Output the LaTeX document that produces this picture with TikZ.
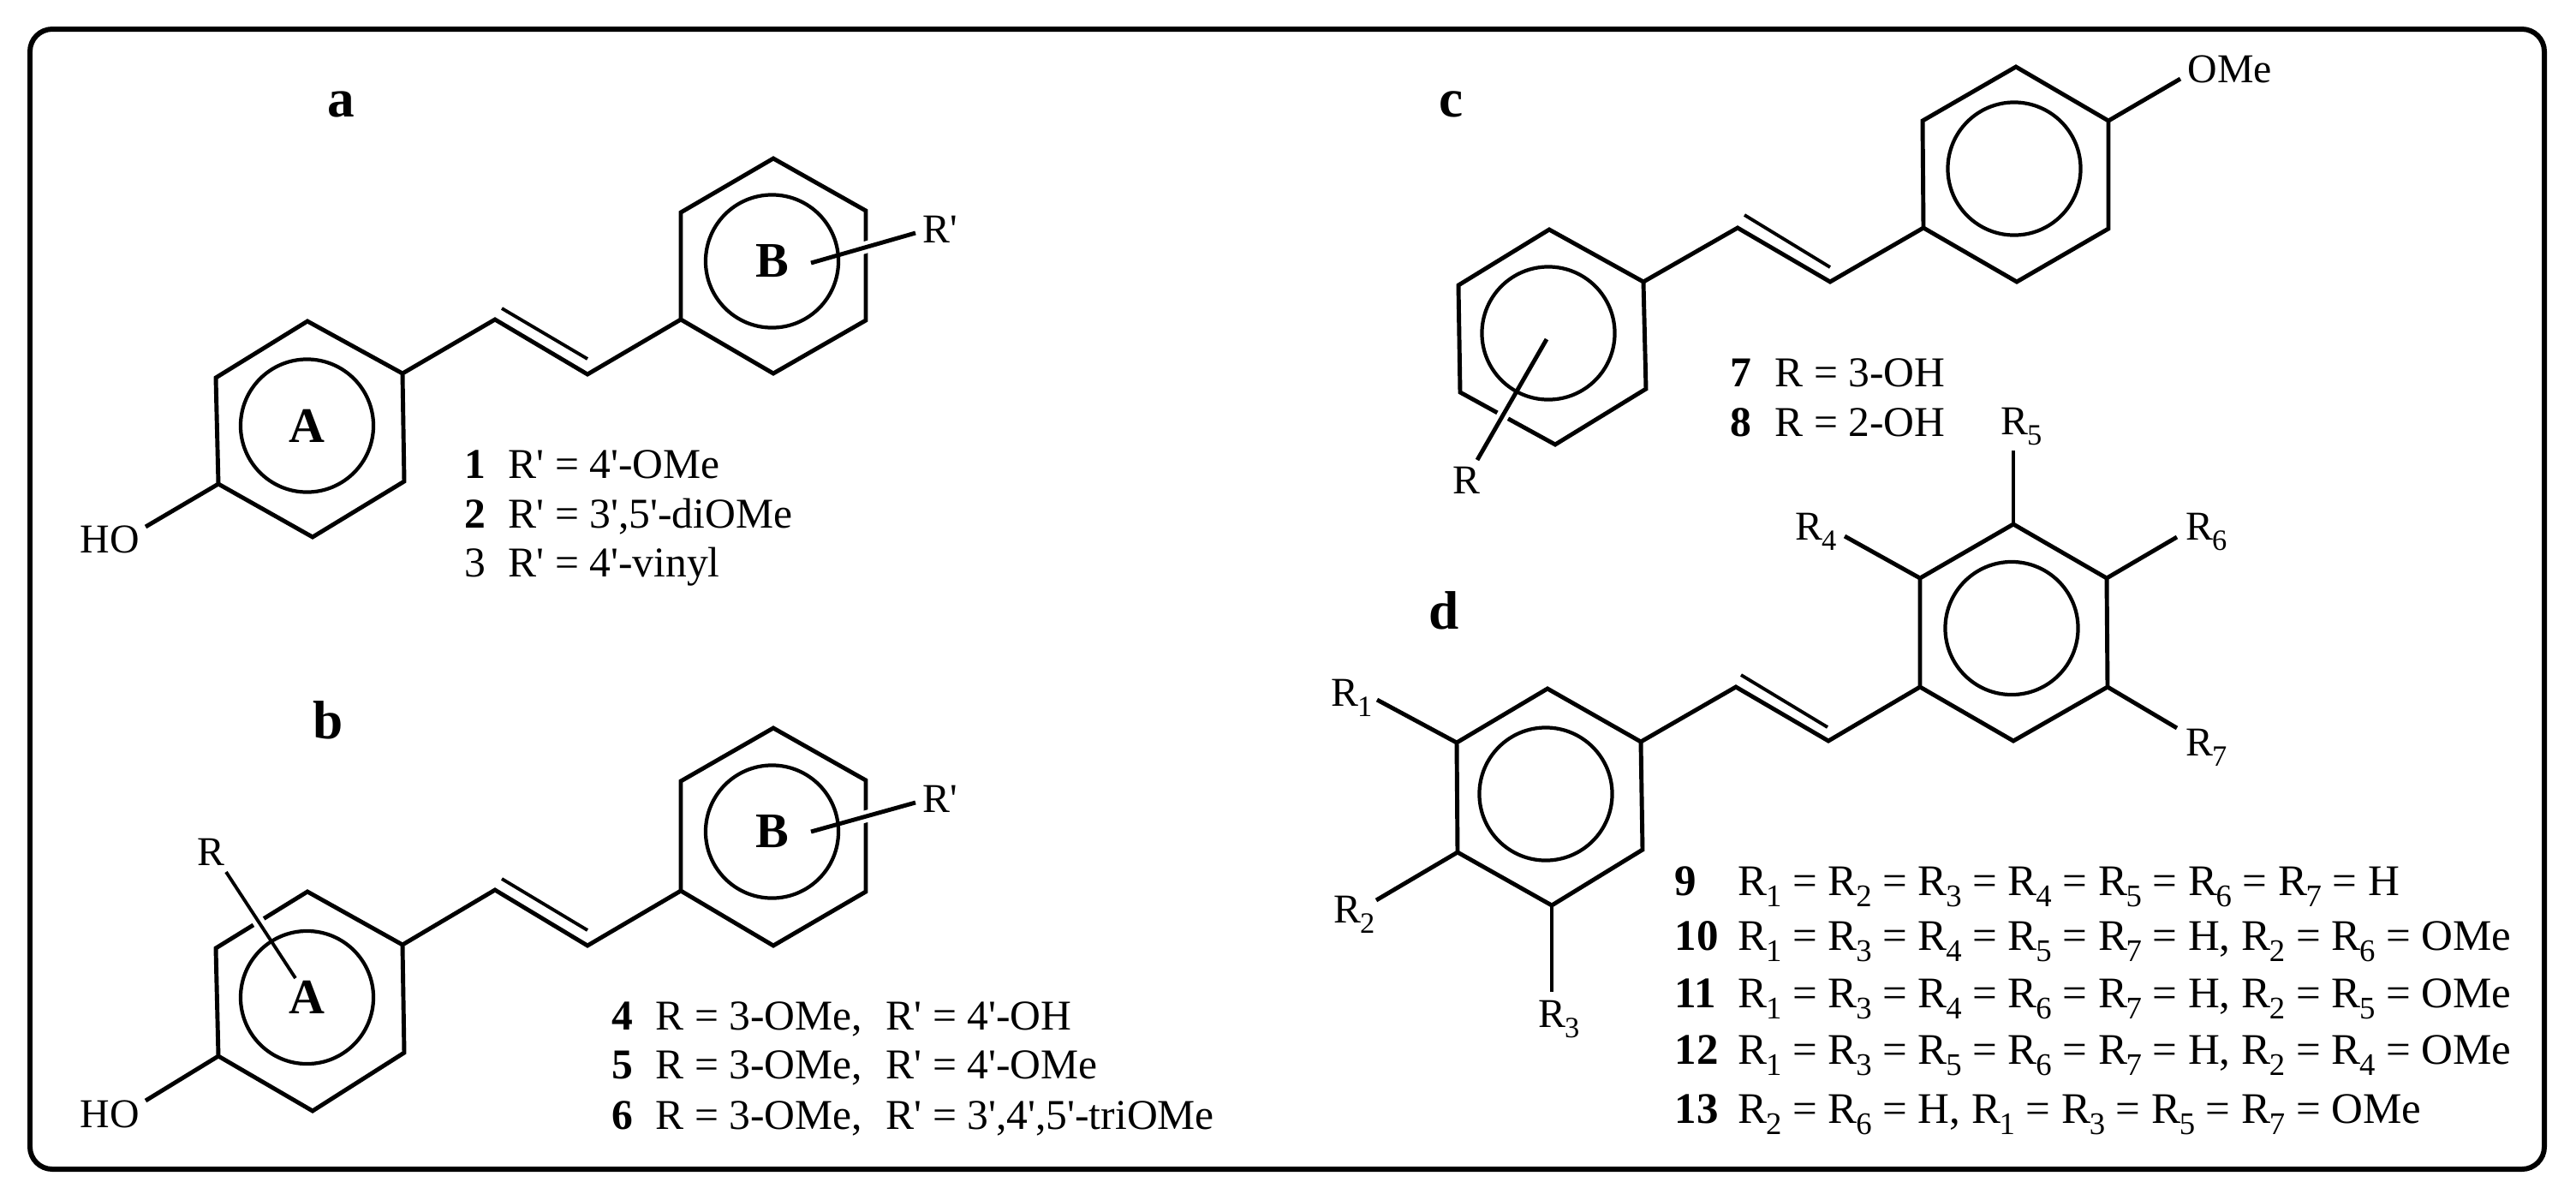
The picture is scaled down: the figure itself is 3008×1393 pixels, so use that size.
\documentclass[tikz,border=0pt]{standalone}
\usepackage{fontspec}
\setmainfont{Liberation Serif}[Ligatures=TeXOff]
\newlength\sbsz
\newcommand\Rsb[1]{R\kern-0.03em\raisebox{-0.26em}{\setlength{\sbsz}{0.72em}\fontsize{\sbsz}{\sbsz}\selectfont #1}}
\newcommand\sixring[7]{%
  \coordinate (#1a) at #2; \coordinate (#1b) at #3; \coordinate (#1c) at #4;
  \coordinate (#1d) at #5; \coordinate (#1e) at #6; \coordinate (#1f) at #7;
  \draw[bond] (#1a) -- (#1b) -- (#1c) -- (#1d) -- (#1e) -- (#1f) -- cycle;}
\tikzset{
  bond/.style={line width=1.4pt,line join=miter,miter limit=10},
  halo/.style={white,line width=4pt},
  thinbond/.style={line width=1.1pt},
  arom/.style={circle,draw,line width=1.2pt,minimum size=1.55cm,inner sep=0pt,font=\fontsize{16.5pt}{18pt}\selectfont\bfseries},
  txt/.style={anchor=base west,inner sep=0pt,font=\fontsize{14.1pt}{16pt}\selectfont},
  lbl/.style={anchor=base west,inner sep=0pt,font=\fontsize{13.6pt}{15pt}\selectfont},
  dlist/.style={anchor=base west,inner sep=0pt,font=\fontsize{14.5pt}{16pt}\selectfont},
  head/.style={anchor=base west,inner sep=0pt,font=\fontsize{18pt}{20pt}\selectfont\bfseries},
}
\begin{document}
\begin{tikzpicture}[x=0.01cm,y=-0.01cm]
\useasboundingbox (0,0) rectangle (3008,1393);
\draw[line width=1.7pt,rounded corners=0.26cm] (35,34) rectangle (2971,1365);

% --- a ---
\node[head] (la) at (382,136) {a};
\sixring{aA}{(359,375)}{(470,436)}{(472,562)}{(365,627)}{(255,565)}{(252,441)}
\sixring{aB}{(903,185)}{(1011,246)}{(1011,374)}{(903,436)}{(795,373)}{(795,248)}
\coordinate (a1) at (578,373); \coordinate (a2) at (686,437);
\coordinate (a1d) at (586,360); \coordinate (a2d) at (686,419);
\draw[bond] (aAb) -- (a1) -- (a2) -- (aBe);
\draw[thinbond] (a1d) -- (a2d);
\coordinate (aRi) at (947,307); \coordinate (aRo) at (1069,272);
\draw[halo] (aRi) -- (aRo);
\node[arom] (aCA) at (358.5,497) {A};
\node[arom] (aCB) at (901.5,305) {B};
\draw[bond] (aRi) -- (aRo);
\node[lbl] (aRp) at (1077,283) {R'};
\node[lbl] (aHO) at (93,645) {HO};
\coordinate (aHOe) at (170,615);
\draw[bond] (aAe) -- (aHOe);
\node[txt] (an1) at (542,558) {\textbf{1}};
\node[txt] (at1) at (593,558) {R' = 4'-OMe};
\node[txt] (an2) at (542,616) {\textbf{2}};
\node[txt] (at2) at (593,616) {R' = 3',5'-diOMe};
\node[txt] (an3) at (542,673) {3};
\node[txt] (at3) at (593,673) {R' = 4'-vinyl};

% --- b ---
\node[head] (lb) at (365,862) {b};
\sixring{bA}{(359,1041)}{(470,1103)}{(472,1229)}{(365,1297)}{(255,1233)}{(252,1107)}
\sixring{bB}{(903,850)}{(1011,911)}{(1011,1041)}{(903,1104)}{(795,1040)}{(795,912)}
\coordinate (b1) at (578,1039); \coordinate (b2) at (686,1104);
\coordinate (b1d) at (586,1026); \coordinate (b2d) at (686,1086);
\draw[bond] (bAb) -- (b1) -- (b2) -- (bBe);
\draw[thinbond] (b1d) -- (b2d);
\coordinate (bRi) at (947,971); \coordinate (bRo) at (1069,937);
\coordinate (bSi) at (345,1142); \coordinate (bSo) at (264,1018);
\draw[halo] (bRi) -- (bRo);
\draw[halo] (bSi) -- (bSo);
\node[arom] (bCA) at (358.5,1164.5) {A};
\node[arom] (bCB) at (901.5,971) {B};
\draw[bond] (bRi) -- (bRo);
\draw[thinbond] (bSi) -- (bSo);
\node[lbl] (bRp) at (1077,948) {R'};
\node[lbl] (bR) at (230,1010) {R};
\node[lbl] (bHO) at (93,1316) {HO};
\coordinate (bHOe) at (170,1285);
\draw[bond] (bAe) -- (bHOe);
\node[txt] (bn4) at (714,1202) {\textbf{4}};
\node[txt] (bt4) at (765,1202) {R = 3-OMe,};
\node[txt] (bu4) at (1034,1202) {R' = 4'-OH};
\node[txt] (bn5) at (714,1259) {\textbf{5}};
\node[txt] (bt5) at (765,1259) {R = 3-OMe,};
\node[txt] (bu5) at (1034,1259) {R' = 4'-OMe};
\node[txt] (bn6) at (714,1318) {\textbf{6}};
\node[txt] (bt6) at (765,1318) {R = 3-OMe,};
\node[txt] (bu6) at (1034,1318) {R' = 3',4',5'-triOMe};

% --- c ---
\node[head] (lc) at (1680,136) {c};
\sixring{cA}{(1809,268)}{(1919,329)}{(1922,454)}{(1816,519)}{(1705,458)}{(1703,333)}
\sixring{cB}{(2354,78)}{(2462,141)}{(2462,267)}{(2355,329)}{(2246,266)}{(2245,141)}
\coordinate (c1) at (2029,266); \coordinate (c2) at (2137,329);
\coordinate (c1d) at (2037,251); \coordinate (c2d) at (2137,312);
\draw[bond] (cAb) -- (c1) -- (c2) -- (cBe);
\draw[thinbond] (c1d) -- (c2d);
\coordinate (cSi) at (1806,396); \coordinate (cSo) at (1725,537);
\draw[halo] (cSi) -- (cSo);
\node[arom] (cCA) at (1808,389) {};
\node[arom] (cCB) at (2352,197) {};
\draw[bond] (cSi) -- (cSo);
\node[lbl] (cR) at (1696,576) {R};
\node[lbl] (cOMe) at (2554,96) {OMe};
\coordinate (cOe) at (2546,92);
\draw[bond] (cBb) -- (cOe);
\node[txt] (cn7) at (2020,451) {\textbf{7}};
\node[txt] (ct7) at (2072,451) {R = 3-OH};
\node[txt] (cn8) at (2020,509) {\textbf{8}};
\node[txt] (ct8) at (2072,509) {R = 2-OH};

% --- d ---
\node[head] (ld) at (1668,734) {d};
\sixring{dA}{(1807,804)}{(1916,866)}{(1918,992)}{(1812,1057)}{(1702,995)}{(1701,867)}
\sixring{dB}{(2351,612)}{(2460,675)}{(2461,802)}{(2351,865)}{(2242,802)}{(2242,675)}
\coordinate (d1) at (2027,802); \coordinate (d2) at (2135,865);
\coordinate (d1d) at (2033,788); \coordinate (d2d) at (2134,849);
\draw[bond] (dAb) -- (d1) -- (d2) -- (dBe);
\draw[thinbond] (d1d) -- (d2d);
\node[arom] (dCA) at (1805,927) {};
\node[arom] (dCB) at (2349,733.5) {};
\coordinate (dR1) at (1608,817); \coordinate (dR2) at (1607,1051);
\coordinate (dR3) at (1812,1158); \coordinate (dR4) at (2154,626);
\coordinate (dR5) at (2351,526); \coordinate (dR6) at (2542,627);
\coordinate (dR7) at (2542,850);
\draw[bond] (dAf) -- (dR1);
\draw[bond] (dAe) -- (dR2);
\draw[thinbond] (dAd) -- (dR3);
\draw[bond] (dBf) -- (dR4);
\draw[thinbond] (dBa) -- (dR5);
\draw[bond] (dBb) -- (dR6);
\draw[bond] (dBc) -- (dR7);
\node[lbl] (tR1) at (1554,824) {\Rsb{1}};
\node[lbl] (tR2) at (1557,1077) {\Rsb{2}};
\node[lbl] (tR3) at (1796,1199) {\Rsb{3}};
\node[lbl] (tR4) at (2096,630) {\Rsb{4}};
\node[lbl] (tR5) at (2336,507) {\Rsb{5}};
\node[lbl] (tR6) at (2552,630) {\Rsb{6}};
\node[lbl] (tR7) at (2552,882) {\Rsb{7}};
\node[dlist] (dn9) at (1955,1045) {\textbf{9}};
\node[dlist] (dt9) at (2029,1045) {\Rsb{1} = \Rsb{2} = \Rsb{3} = \Rsb{4} = \Rsb{5} = \Rsb{6} = \Rsb{7} = H};
\node[dlist] (dn10) at (1955,1109) {\textbf{10}};
\node[dlist] (dt10) at (2029,1109) {\Rsb{1} = \Rsb{3} = \Rsb{4} = \Rsb{5} = \Rsb{7} = H, \Rsb{2} = \Rsb{6} = OMe};
\node[dlist] (dn11) at (1955,1176) {\textbf{11}};
\node[dlist] (dt11) at (2029,1176) {\Rsb{1} = \Rsb{3} = \Rsb{4} = \Rsb{6} = \Rsb{7} = H, \Rsb{2} = \Rsb{5} = OMe};
\node[dlist] (dn12) at (1955,1242) {\textbf{12}};
\node[dlist] (dt12) at (2029,1242) {\Rsb{1} = \Rsb{3} = \Rsb{5} = \Rsb{6} = \Rsb{7} = H, \Rsb{2} = \Rsb{4} = OMe};
\node[dlist] (dn13) at (1955,1311) {\textbf{13}};
\node[dlist] (dt13) at (2029,1311) {\Rsb{2} = \Rsb{6} = H, \Rsb{1} = \Rsb{3} = \Rsb{5} = \Rsb{7} = OMe};
\end{tikzpicture}
\end{document}
